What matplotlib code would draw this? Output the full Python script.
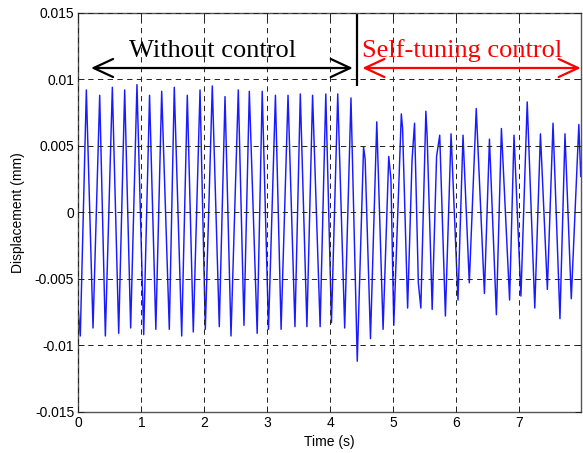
import matplotlib
matplotlib.use('Agg')
import matplotlib.pyplot as plt

# peaks / troughs
time_s = [
    0.000, 0.030, 0.126, 0.232, 0.338, 0.428, 0.539, 0.640, 0.735, 0.830,
    0.930, 1.037, 1.130, 1.230, 1.323, 1.444, 1.523, 1.641, 1.730, 1.825,
    1.932, 2.016, 2.127, 2.238, 2.329, 2.424, 2.540, 2.630, 2.715, 2.840,
    2.920, 3.020, 3.130, 3.220, 3.330, 3.440, 3.525, 3.630, 3.720, 3.840,
    3.930, 4.020, 4.120, 4.230, 4.330, 4.430, 4.530, 4.555, 4.640, 4.740,
    4.840, 4.930, 4.965, 5.010, 5.130, 5.150, 5.230, 5.300, 5.340, 5.400,
    5.440, 5.520, 5.540, 5.590, 5.620, 5.690, 5.740, 5.830, 5.920, 6.030,
    6.110, 6.210, 6.320, 6.450, 6.530, 6.640, 6.720, 6.850, 6.920, 7.030,
    7.130, 7.250, 7.340, 7.450, 7.540, 7.650, 7.730, 7.830, 7.950, 7.980,
]
disp_mm = [
    -0.0075, -0.0093, 0.0092, -0.0087, 0.0088, -0.0093, 0.0094, -0.0091, 0.0092, -0.0087,
    0.0096, -0.0092, 0.0088, -0.0088, 0.0091, -0.0088, 0.0094, -0.0093, 0.0088, -0.0090,
    0.0092, -0.0088, 0.0095, -0.0086, 0.0087, -0.0093, 0.0092, -0.0085, 0.0091, -0.0091,
    0.0091, -0.0088, 0.0088, -0.0088, 0.0088, -0.0086, 0.0089, -0.0086, 0.0088, -0.0086,
    0.0089, -0.0083, 0.0089, -0.0087, 0.0086, -0.0112, 0.0049, 0.0040, -0.0095, 0.0068,
    -0.0088, 0.0042, 0.0025, -0.0085, 0.0074, 0.0063, -0.0072, 0.0039, 0.0067, -0.0053,
    -0.0072, 0.0076, 0.0057, -0.0023, -0.0073, 0.0042, 0.0058, -0.0078, 0.0059, -0.0066,
    0.0058, -0.0053, 0.0078, -0.0061, 0.0055, -0.0077, 0.0063, -0.0066, 0.0058, -0.0063,
    0.0083, -0.0072, 0.0059, -0.0058, 0.0067, -0.0080, 0.0059, -0.0065, 0.0066, 0.0027,
]

x_ticks = [0, 1, 2, 3, 4, 5, 6, 7]
y_ticks = [-0.015, -0.01, -0.005, 0, 0.005, 0.01, 0.015]
y_tick_labels = ['-0.015', '-0.01', '-0.005', '0', '0.005', '0.01', '0.015']

switch_time = 4.42          # controller switched on
t_end = 7.98
arrow_y = 0.01085
phase_text_y = 0.01171

fig = plt.figure(figsize=(5.83, 4.53), dpi=100)
ax = fig.add_axes([0.1345, 0.091, 0.8616, 0.8807])

ax.plot(time_s, disp_mm, color='#1a1aff', lw=1.05)

ax.set_xlim(0, t_end)
ax.set_ylim(-0.015, 0.015)
ax.set_xticks(x_ticks)
ax.set_xticklabels([str(t) for t in x_ticks])
ax.set_yticks(y_ticks)
ax.set_yticklabels(y_tick_labels)

ax.grid(True, linestyle=(0, (5.5, 4.5)), color='#222222', lw=0.7)
ax.set_axisbelow(False)
ax.tick_params(direction='in', length=4, width=0.7, top=True, right=True,
               labelsize=10, pad=3, colors='#222222')
for lab in ax.get_xticklabels() + ax.get_yticklabels():
    lab.set_family('Liberation Sans')
    lab.set_color('black')
for s in ax.spines.values():
    s.set_color('#555555')
    s.set_linewidth(1.0)

ax.set_xlabel('Time (s)', fontsize=10, family='Liberation Sans')
ax.set_ylabel('Displacement (mm)', fontsize=10, family='Liberation Sans')
ax.xaxis.set_label_coords(0.5, -0.058)
ax.yaxis.set_label_coords(-0.106, 0.5)

# phase annotations
ax.vlines(switch_time, 0.0095, 0.0149, color='k', lw=1.6)
arrow_style = '<->,head_length=14,head_width=6.5'
ax.annotate('', xy=(0.20, arrow_y), xytext=(4.36, arrow_y),
            arrowprops=dict(arrowstyle=arrow_style, color='k', lw=1.6,
                            shrinkA=0, shrinkB=0, mutation_scale=1))
ax.annotate('', xy=(4.51, arrow_y), xytext=(t_end, arrow_y), annotation_clip=False,
            arrowprops=dict(arrowstyle=arrow_style, color='red', lw=1.6,
                            shrinkA=0, shrinkB=0, mutation_scale=1))
ax.text(2.13, phase_text_y, 'Without control', ha='center', va='baseline',
        fontsize=19, family='Liberation Serif', color='k')
ax.text(6.10, phase_text_y, 'Self-tuning control', ha='center', va='baseline',
        fontsize=19, family='Liberation Serif', color='red')

fig.savefig('out.png', dpi=100)
plt.close(fig)
